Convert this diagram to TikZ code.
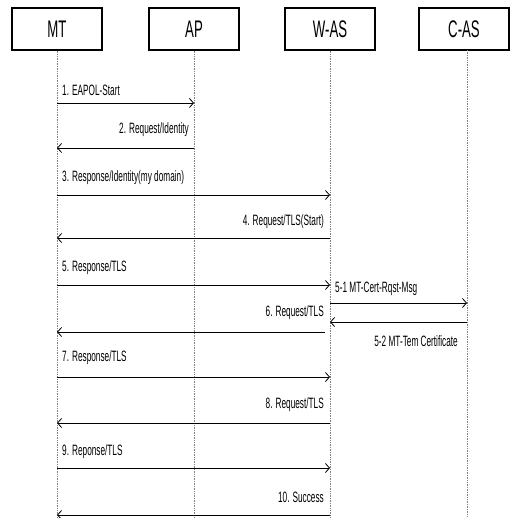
\documentclass[tikz,border=0pt]{standalone}
\usepackage{fontspec}
\setmainfont{Liberation Sans}[FakeStretch=0.55]
\usetikzlibrary{arrows.meta}
\begin{document}
\begin{tikzpicture}[x=1pt,y=-1pt,
  actor/.style={draw,line width=1.6pt,minimum width=90pt,minimum height=42pt,inner sep=0pt,font=\fontsize{24}{26}\selectfont},
  life/.style={gray,densely dotted,line width=0.7pt},
  msg/.style={-{Straight Barb[length=4pt,width=9pt]},line width=0.8pt},
  lbl/.style={font=\fontsize{15}{17}\selectfont,inner sep=0pt}]
\useasboundingbox (0,0) rectangle (511,518);
% actors
\node[actor] (MT) at (57,29) {MT};
\node[actor] (AP) at (194,29) {AP};
\node[actor] (WAS) at (330,29) {W-AS};
\node[actor] (CAS) at (464,29) {C-AS};
% lifeline ends
\coordinate (MTe) at (57,518);
\coordinate (APe) at (194,518);
\coordinate (WASe) at (330,518);
\coordinate (CASt) at (467,50);
\coordinate (CASe) at (467,518);
\draw[life] (MT.south) -- (MTe);
\draw[life] (AP.south) -- (APe);
\draw[life] (WAS.south) -- (WASe);
\draw[life] (CASt) -- (CASe);
% message end points
\coordinate (m1a) at (57,103);  \coordinate (m1b) at (194,103);
\coordinate (m2a) at (194,148); \coordinate (m2b) at (57,148);
\coordinate (m3a) at (57,195);  \coordinate (m3b) at (330,195);
\coordinate (m4a) at (330,238); \coordinate (m4b) at (57,238);
\coordinate (m5a) at (57,285);  \coordinate (m5b) at (330,285);
\coordinate (m51a) at (330,303); \coordinate (m51b) at (467,303);
\coordinate (m52a) at (467,322); \coordinate (m52b) at (330,322);
\coordinate (m6a) at (325,332); \coordinate (m6b) at (57,332);
\coordinate (m7a) at (57,377);  \coordinate (m7b) at (330,377);
\coordinate (m8a) at (330,423); \coordinate (m8b) at (57,423);
\coordinate (m9a) at (57,468);  \coordinate (m9b) at (330,468);
\coordinate (m10a) at (330,515); \coordinate (m10b) at (57,515);
\draw[msg] (m1a) -- (m1b);
\draw[msg] (m2a) -- (m2b);
\draw[msg] (m3a) -- (m3b);
\draw[msg] (m4a) -- (m4b);
\draw[msg] (m5a) -- (m5b);
\draw[msg] (m51a) -- (m51b);
\draw[msg] (m52a) -- (m52b);
\draw[msg] (m6a) -- (m6b);
\draw[msg] (m7a) -- (m7b);
\draw[msg] (m8a) -- (m8b);
\draw[msg] (m9a) -- (m9b);
\draw[msg] (m10a) -- (m10b);
% labels
\node[lbl,anchor=west] (l1) at (62,90) {1. EAPOL-Start};
\node[lbl,anchor=east] (l2) at (189,130) {2. Request/Identity};
\node[lbl,anchor=west] (l3) at (62,178) {3. Response/Identity(my domain)};
\node[lbl,anchor=east] (l4) at (324,222) {4. Request/TLS(Start)};
\node[lbl,anchor=west] (l5) at (62,268) {5. Response/TLS};
\node[lbl,anchor=west] (l51) at (335,289) {5-1 MT-Cert-Rqst-Msg};
\node[lbl,anchor=east] (l6) at (324,313) {6. Request/TLS};
\node[lbl,anchor=east] (l52) at (458,341) {5-2 MT-Tem Certificate};
\node[lbl,anchor=west] (l7) at (62,358) {7. Response/TLS};
\node[lbl,anchor=east] (l8) at (324,405) {8. Request/TLS};
\node[lbl,anchor=west] (l9) at (62,452) {9. Reponse/TLS};
\node[lbl,anchor=east] (l10) at (324,497) {10. Success};
\end{tikzpicture}
\end{document}
